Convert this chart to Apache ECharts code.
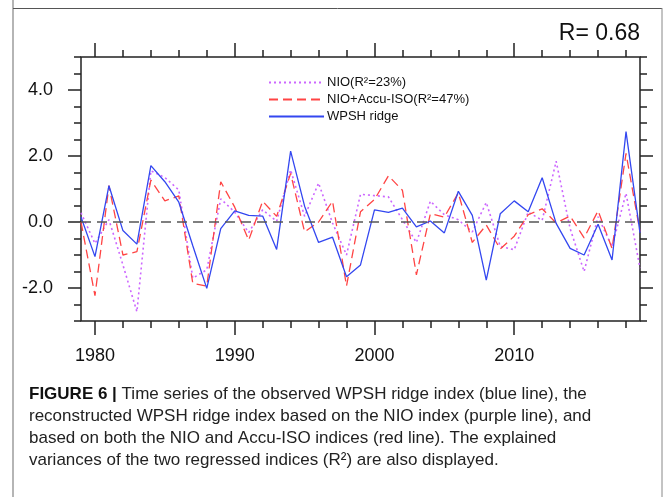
<!DOCTYPE html>
<html>
<head>
<meta charset="utf-8">
<script src="https://cdn.jsdelivr.net/npm/echarts@6/dist/echarts.min.js"></script>
<style>
    html, body { margin: 0; padding: 0; background: #fff; }
    #chart { width: 666px; height: 497px; }
</style>
</head>
<body>
<div id="chart"></div>
<script>
// years on the x axis
const years = [
    1979, 1980, 1981, 1982, 1983, 1984, 1985, 1986, 1987, 1988,
    1989, 1990, 1991, 1992, 1993, 1994, 1995, 1996, 1997, 1998,
    1999, 2000, 2001, 2002, 2003, 2004, 2005, 2006, 2007, 2008,
    2009, 2010, 2011, 2012, 2013, 2014, 2015, 2016, 2017, 2018, 2019
];
// reconstructed from NIO only (purple, dotted)
const nio = [
    0.28, -0.65, 0.07, -1.3, -2.72, 1.55, 1.35, 0.97, -1.7, -1.45,
    0.7, 0.3, -0.32, 0.37, 0.02, 1.58, 0.17, 1.18, -0.03, -1.0,
    0.84, 0.8, 0.76, 0.07, -0.62, 0.63, 0.22, 0.07, -0.3, 0.59,
    -0.74, -0.84, 0.3, 0.05, 1.84, -0.2, -1.5, 0.16, -0.75, 0.87, -1.4
];
// reconstructed from NIO + Accu-ISO (red, dashed)
const nioIso = [
    0.0, -2.23, 1.1, -1.0, -0.9, 1.27, 0.64, 0.79, -1.86, -1.94,
    1.22, 0.45, -0.55, 0.63, 0.17, 1.47, -0.3, 0.0, 0.63, -1.94,
    0.31, 0.68, 1.4, 0.96, -1.6, 0.25, 0.15, 0.88, -0.62, -0.09,
    -0.82, -0.43, 0.22, 0.4, -0.03, 0.18, -0.48, 0.34, -0.8, 2.08, -0.3
];
// observed WPSH ridge index (blue, solid)
const wpsh = [
    0.15, -1.05, 1.1, -0.26, -0.67, 1.71, 1.22, 0.6, -0.72, -2.01,
    -0.2, 0.34, 0.2, 0.18, -0.83, 2.15, 0.48, -0.62, -0.46, -1.66,
    -1.3, 0.37, 0.29, 0.42, -0.15, 0.03, -0.33, 0.93, 0.2, -1.76,
    0.25, 0.64, 0.31, 1.34, -0.04, -0.8, -1.0, -0.07, -1.15, 2.74, -0.33
];

const xMajorTicks = [1980, 1990, 2000, 2010];
const xMinorTicks = [1980, 1982, 1984, 1986, 1988, 1990, 1992, 1994, 1996, 1998,
    2000, 2002, 2004, 2006, 2008, 2010, 2012, 2014, 2016, 2018];
const yMajorTicks = [-2, 0, 2, 4];
const yMinorTicks = [-3, -2.5, -2, -1.5, -1, -0.5, 0, 0.5, 1, 1.5, 2, 2.5, 3, 3.5, 4, 4.5, 5];
const zeroLine = 0;

const captionLines = [
    '{b|FIGURE 6 |} {n|Time series of the observed WPSH ridge index (blue line), the}',
    '{n|reconstructed WPSH ridge index based on the NIO index (purple line), and}',
    '{n|based on both the NIO and Accu-ISO indices (red line). The explained}',
    '{n|variances of the two regressed indices (R²) are also displayed.}'
];

const font = 'Liberation Sans, Arial, Helvetica, sans-serif';
const tickStyle = { color: '#222', width: 1.5 };
const gridBox = { left: 81, right: 26, top: 57, bottom: 176 };

function xAxisDef(gridIndex, position, ticks, len, labels) {
    return {
        type: 'value', gridIndex: gridIndex, position: position,
        min: 1979, max: 2019,
        axisLine: { show: false, onZero: false },
        splitLine: { show: false },
        axisTick: { show: true, length: len, lineStyle: tickStyle, customValues: ticks },
        axisLabel: labels ? {
            show: true, customValues: ticks, margin: 26,
            color: '#111', fontSize: 18, fontFamily: font,
            formatter: v => String(v)
        } : { show: false }
    };
}

function yAxisDef(gridIndex, position, ticks, len, labels) {
    return {
        type: 'value', gridIndex: gridIndex, position: position,
        min: -3, max: 5,
        axisLine: { show: false, onZero: false },
        splitLine: { show: false },
        axisTick: { show: true, length: len, lineStyle: tickStyle, customValues: ticks },
        axisLabel: labels ? {
            show: true, customValues: ticks, margin: 28,
            color: '#111', fontSize: 18, fontFamily: font,
            formatter: v => v.toFixed(1)
        } : { show: false }
    };
}

const pairs = arr => years.map((y, i) => [y, arr[i]]);

const option = {
    animation: false,
    backgroundColor: '#fff',
    title: {
        text: 'R= 0.68',
        right: 26, top: 22, padding: 0,
        textStyle: { color: '#111', fontSize: 23, fontWeight: 'normal', fontFamily: font }
    },
    legend: {
        orient: 'vertical',
        left: 268, top: 76, padding: 0,
        itemWidth: 55, itemHeight: 10, itemGap: 4,
        itemStyle: { opacity: 0 },
        textStyle: { color: '#111', fontSize: 13, fontFamily: font, padding: [0, 0, 0, -2] },
        data: ['NIO(R²=23%)', 'NIO+Accu-ISO(R²=47%)', 'WPSH ridge']
    },
    grid: [
        Object.assign({ show: true, borderColor: '#222', borderWidth: 1.5 }, gridBox),
        Object.assign({ show: false }, gridBox)
    ],
    xAxis: [
        xAxisDef(0, 'bottom', xMajorTicks, 14, true),
        xAxisDef(0, 'top', xMajorTicks, 14, false),
        xAxisDef(1, 'bottom', xMinorTicks, 7, false),
        xAxisDef(1, 'top', xMinorTicks, 7, false)
    ],
    yAxis: [
        yAxisDef(0, 'left', yMajorTicks, 13, true),
        yAxisDef(0, 'right', yMajorTicks, 13, false),
        yAxisDef(1, 'left', yMinorTicks, 7, false),
        yAxisDef(1, 'right', yMinorTicks, 7, false)
    ],
    series: [
        {
            name: 'NIO(R²=23%)', type: 'line', xAxisIndex: 0, yAxisIndex: 0,
            symbol: 'none', color: '#cc66ff',
            lineStyle: { color: '#cc66ff', width: 1.6, type: [2, 3] },
            data: pairs(nio),
            markLine: {
                silent: true, symbol: 'none', label: { show: false },
                lineStyle: { color: '#555', width: 1.6, type: [10, 6] },
                data: [{ yAxis: zeroLine }]
            }
        },
        {
            name: 'NIO+Accu-ISO(R²=47%)', type: 'line', xAxisIndex: 0, yAxisIndex: 0,
            symbol: 'none', color: '#ff4444',
            lineStyle: { color: '#ff4444', width: 1.3, type: [9, 5] },
            data: pairs(nioIso)
        },
        {
            name: 'WPSH ridge', type: 'line', xAxisIndex: 0, yAxisIndex: 0,
            symbol: 'none', color: '#3347f0',
            lineStyle: { color: '#3347f0', width: 1.3 },
            data: pairs(wpsh)
        }
    ],
    graphic: [
        { type: 'line', shape: { x1: 13, y1: 0, x2: 13, y2: 497 }, style: { stroke: '#b5b5b5', lineWidth: 2 }, silent: true },
        { type: 'line', shape: { x1: 13, y1: 8.5, x2: 662, y2: 8.5 }, style: { stroke: '#555', lineWidth: 1 }, silent: true },
        { type: 'line', shape: { x1: 662, y1: 8, x2: 662, y2: 497 }, style: { stroke: '#888', lineWidth: 1 }, silent: true }
    ].concat(captionLines.map((line, i) => ({
        type: 'text', left: 29, top: 386 + i * 22,
        silent: true,
        style: {
            text: line,
            font: '17px ' + font,
            rich: {
                b: { fontWeight: 'bold', fontSize: 17, fontFamily: font, fill: '#111' },
                n: { fontSize: 17, fontFamily: font, fill: '#222' }
            }
        }
    })))
};

const chart = echarts.init(document.getElementById('chart'));
chart.setOption(option);
</script>
</body>
</html>
